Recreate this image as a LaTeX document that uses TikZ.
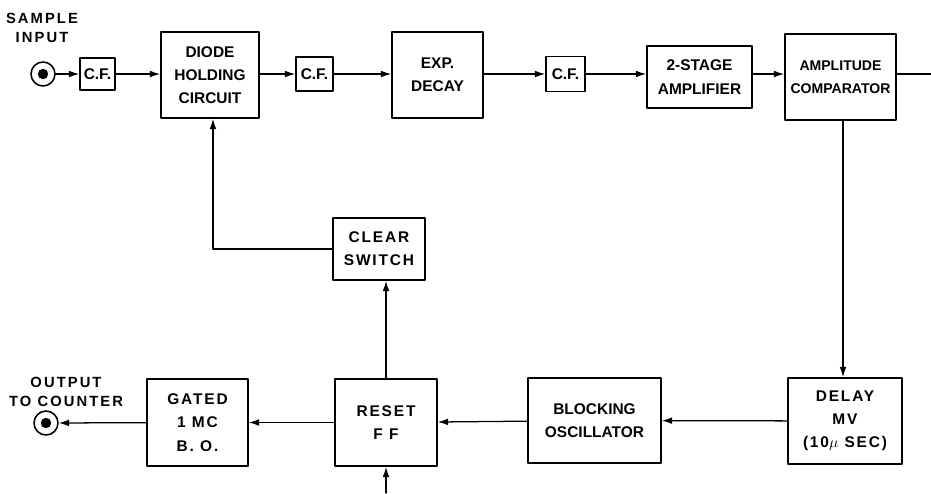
\documentclass[tikz,border=0pt]{standalone}
\usepackage{fontspec}
\setmainfont{Liberation Sans}
\usetikzlibrary{arrows.meta}
\begin{document}
\begin{tikzpicture}[x=0.025cm,y=-0.025cm,line cap=round,line join=round,
  >={Latex[length=2.6mm,width=1.7mm]},
  blk/.style={draw,line width=1.1pt,align=center,inner sep=0pt,
    font=\fontsize{11}{16.5}\selectfont\bfseries},
  spaced/.style={font=\fontsize{11}{16.5}\selectfont\bfseries\addfontfeature{LetterSpace=12}},
  lbl/.style={align=center,inner sep=0pt,
    font=\fontsize{10.5}{13}\selectfont\bfseries\addfontfeature{LetterSpace=14}},
  jack/.style={circle,draw,line width=1.1pt,minimum size=0.6cm,inner sep=0pt},
  wire/.style={line width=0.9pt}]
  \useasboundingbox (0,0) rectangle (931,493);
  % top row
  \node[jack] (inp) at (43,74) {};
  \fill (inp) circle (0.13cm);
  \node[lbl] (inplbl) at (42,28) {SAMPLE\\INPUT};
  \node[blk,minimum width=0.875cm,minimum height=0.8cm] (cfa) at (97.5,74) {C.F.};
  \node[blk,minimum width=2.45cm,minimum height=2.15cm] (diode) at (210,75) {DIODE\\HOLDING\\CIRCUIT};
  \node[blk,minimum width=0.925cm,minimum height=0.85cm] (cfb) at (314.5,74) {C.F.};
  \node[blk,minimum width=2.275cm,minimum height=2.15cm] (exp) at (437.5,75) {EXP.\\DECAY};
  \node[blk,minimum width=0.975cm,minimum height=0.875cm] (cfc) at (565.5,74) {C.F.};
  \node[blk,minimum width=2.625cm,minimum height=1.55cm] (amp) at (699.5,77) {2-STAGE\\AMPLIFIER};
  \node[blk,minimum width=2.775cm,minimum height=2.15cm,
    font=\fontsize{10}{16.5}\selectfont\bfseries] (comp) at (840.5,77) {AMPLITUDE\\COMPARATOR};
  \coordinate (outr) at (931,74);
  % middle
  \node[blk,spaced,minimum width=2.3cm,minimum height=1.55cm] (clear) at (379,249) {CLEAR\\SWITCH};
  % bottom row
  \node[blk,spaced,minimum width=2.85cm,minimum height=2.15cm] (delay) at (845,421) {DELAY\\MV\\(10$\mu$ SEC)};
  \node[blk,minimum width=3.325cm,minimum height=2.125cm] (blocking) at (594.5,420.5) {BLOCKING\\OSCILLATOR};
  \node[blk,spaced,minimum width=2.55cm,minimum height=2.175cm] (reset) at (386,422.5) {RESET\\F F};
  \node[blk,spaced,minimum width=2.525cm,minimum height=2.175cm] (gated) at (197.5,422.5) {GATED\\1 MC\\B. O.};
  \node[jack] (outp) at (46,423) {};
  \fill (outp) circle (0.13cm);
  \node[lbl] (outlbl) at (66,392) {OUTPUT\\TO COUNTER};
  \coordinate (trig) at (386,493);
  % connectors
  \draw[wire,->] (inp) -- (cfa);
  \draw[wire,->] (cfa) -- (cfa -| diode.west);
  \draw[wire,->] (cfa -| diode.east) -- (cfb);
  \draw[wire,->] (cfb) -- (cfb -| exp.west);
  \draw[wire,->] (cfb -| exp.east) -- (cfc);
  \draw[wire,->] (cfc) -- (cfc -| amp.west);
  \draw[wire,->] (cfc -| amp.east) -- (cfc -| comp.west);
  \draw[wire] (cfc -| comp.east) -- (outr);
  \draw[wire,->] (comp.south -| 843,0) -- (delay.north -| 843,0);
  \draw[wire,->] (delay) -- (blocking);
  \draw[wire,->] (blocking) -- (reset);
  \draw[wire,->] (reset) -- (gated);
  \draw[wire,->] (gated) -- (outp);
  \draw[wire,->] (reset.north) -- (clear.south -| reset.north);
  \draw[wire,->] (clear.west) -| (diode.south -| 213,0);
  \draw[wire,->] (trig) -- (reset);
\end{tikzpicture}
\end{document}
